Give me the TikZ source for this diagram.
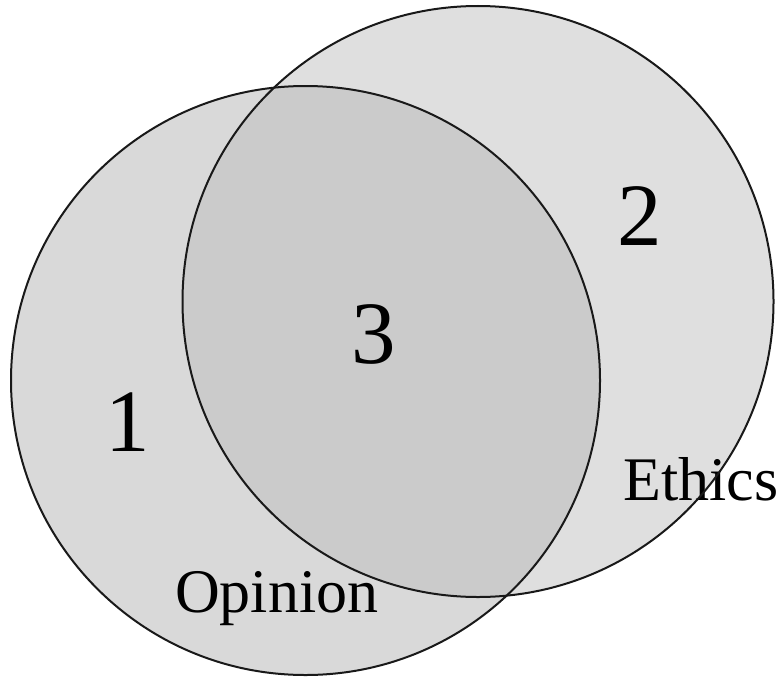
\documentclass[tikz,border=0pt]{standalone}
\usepackage{fontspec}
\setmainfont{Liberation Serif}
\definecolor{leftfill}{HTML}{D9D9D9}
\definecolor{rightfill}{HTML}{DFDFDF}
\definecolor{bothfill}{HTML}{CBCBCB}
\begin{document}
\begin{tikzpicture}[x=1pt,y=-1pt,
  outline/.style={draw=black!90,line width=2pt},
  digit/.style={inner sep=0pt,anchor=base,font=\fontsize{89}{89}\selectfont},
  word/.style={inner sep=0pt,anchor=base west,font=\fontsize{62}{62}\selectfont}]
\useasboundingbox (0,0) rectangle (783,677);
\coordinate (L) at (305.5,380.5);
\coordinate (R) at (478,301.5);
\fill[leftfill] (L) circle[radius=294.5];
\fill[rightfill] (R) circle[radius=295.5];
\begin{scope}
  \clip (L) circle[radius=294.5];
  \fill[bothfill] (R) circle[radius=295.5];
\end{scope}
\node[digit] (one) at (128,451) {1};
\node[digit] (three) at (374,363) {3};
\node[digit] (two) at (640,245) {2};
\node[word] (ethics) at (623,500) {Ethics};
\node[word] (opinion) at (175,612) {Opinion};
\draw[outline] (L) circle[radius=294.5];
\draw[outline] (R) circle[radius=295.5];
\end{tikzpicture}
\end{document}
